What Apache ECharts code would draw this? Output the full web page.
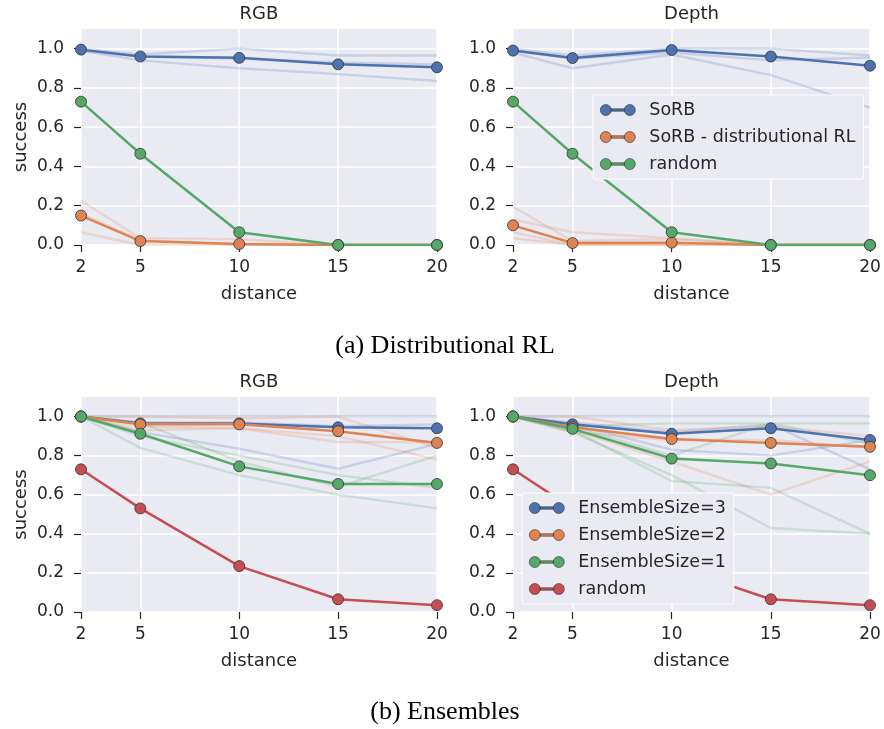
<!DOCTYPE html>
<html>
<head>
<meta charset="utf-8">
<script src="https://cdn.jsdelivr.net/npm/echarts@6/dist/echarts.min.js"></script>
<style>
  html, body { margin: 0; padding: 0; background: #fff; }
  #chart { width: 884px; height: 729px; }
</style>
</head>
<body>
<div id="chart"></div>
<script>
  // x positions and tick labels
  const distances = [2, 5, 10, 15, 20];
  const xTicks = [2, 5, 10, 15, 20];
  const yTicks = [0, 0.2, 0.4, 0.6, 0.8, 1.0];

  // (a) Distributional RL, RGB
  const rgbSorb = [0.995, 0.96, 0.953, 0.92, 0.905];
  const rgbSorbRuns = [
    [1.0, 0.97, 1.0, 0.965, 0.965],
    [0.99, 0.96, 0.95, 0.93, 0.92],
    [0.99, 0.94, 0.90, 0.87, 0.835]
  ];
  const rgbDistRL = [0.15, 0.02, 0.005, 0, 0];
  const rgbDistRLRuns = [
    [0.225, 0.035, 0.03, 0, 0],
    [0.16, 0.025, 0.0, 0, 0],
    [0.065, 0.0, 0.0, 0, 0]
  ];
  const rgbRandom = [0.73, 0.465, 0.065, 0, 0];

  // (a) Distributional RL, Depth
  const depthSorb = [0.99, 0.952, 0.993, 0.96, 0.913];
  const depthSorbRuns = [
    [1.0, 0.965, 1.0, 1.0, 0.965],
    [0.98, 0.90, 0.97, 0.865, 0.70],
    [0.99, 0.95, 0.98, 0.94, 0.955]
  ];
  const depthDistRL = [0.10, 0.01, 0.012, 0, 0];
  const depthDistRLRuns = [
    [0.195, 0.02, 0.03, 0, 0],
    [0.13, 0.065, 0.035, 0, 0],
    [0.065, 0.0, 0.0, 0, 0],
    [0.035, 0.0, 0.0, 0, 0]
  ];
  const depthRandom = [0.73, 0.465, 0.065, 0, 0];

  // (b) Ensembles, RGB
  const ensRgb3 = [1.0, 0.965, 0.965, 0.945, 0.94];
  const ensRgb2 = [1.0, 0.96, 0.96, 0.925, 0.865];
  const ensRgb1 = [1.0, 0.912, 0.745, 0.655, 0.655];
  const ensRgbRandom = [0.73, 0.53, 0.235, 0.065, 0.035];
  const ensRgb3Runs = [
    [1.0, 1.0, 1.0, 1.0, 1.0],
    [1.0, 0.97, 0.97, 0.95, 0.96],
    [1.0, 0.92, 0.835, 0.733, 0.86]
  ];
  const ensRgb2Runs = [
    [1.0, 1.0, 0.99, 1.0, 0.84],
    [1.0, 0.95, 0.94, 0.90, 0.78],
    [1.0, 0.93, 0.94, 0.87, 0.87]
  ];
  const ensRgb1Runs = [
    [1.0, 0.84, 0.70, 0.60, 0.53],
    [1.0, 0.90, 0.80, 0.70, 0.635],
    [1.0, 0.97, 0.77, 0.64, 0.80]
  ];

  // (b) Ensembles, Depth
  const ensDepth3 = [1.0, 0.96, 0.912, 0.94, 0.88];
  const ensDepth2 = [1.0, 0.945, 0.885, 0.865, 0.845];
  const ensDepth1 = [1.0, 0.937, 0.785, 0.76, 0.70];
  const ensDepthRandom = [0.73, 0.53, 0.235, 0.065, 0.035];
  const ensDepth3Runs = [
    [1.0, 1.0, 1.0, 1.0, 1.0],
    [1.0, 0.97, 0.92, 0.96, 0.73],
    [1.0, 0.96, 0.83, 0.80, 0.88]
  ];
  const ensDepth2Runs = [
    [1.0, 1.0, 0.93, 0.95, 0.90],
    [1.0, 0.93, 0.77, 0.60, 0.77],
    [1.0, 0.92, 0.88, 0.88, 0.84]
  ];
  const ensDepth1Runs = [
    [1.0, 0.93, 0.67, 0.635, 0.40],
    [1.0, 0.92, 0.70, 0.43, 0.40],
    [1.0, 0.95, 0.80, 0.965, 0.86],
    [1.0, 0.95, 0.965, 0.965, 0.965]
  ];

  const BLUE = '#4C72B0', ORANGE = '#DD8452', GREEN = '#55A868', RED = '#C44E52';
  const TEXT = '#262626';
  const FONT = 'DejaVu Sans';

  const panels = [
    { left: 81, top: 29, width: 356, height: 216, title: 'RGB', ylabel: true },
    { left: 513, top: 29, width: 357, height: 216, title: 'Depth', ylabel: false },
    { left: 81, top: 397, width: 356, height: 215, title: 'RGB', ylabel: true },
    { left: 513, top: 397, width: 357, height: 215, title: 'Depth', ylabel: false }
  ];

  function pts(vals) {
    return distances.map((d, i) => [d, vals[i]]);
  }

  const series = [];
  function addGroup(idx, name, mean, runs, color, z) {
    (runs || []).forEach((r, k) => {
      series.push({
        type: 'line', name: name + '_run' + k, xAxisIndex: idx, yAxisIndex: idx,
        data: pts(r), symbol: 'none', silent: true, z: 2,
        lineStyle: { color: color, width: 2.4, opacity: 0.22 },
        itemStyle: { color: color }
      });
    });
    series.push({
      type: 'line', name: name, xAxisIndex: idx, yAxisIndex: idx,
      data: pts(mean), symbol: 'circle', symbolSize: 11, z: z,
      lineStyle: { color: color, width: 2.5 },
      itemStyle: { color: color, borderColor: '#333', borderWidth: 0.8 }
    });
  }

  addGroup(0, 'SoRB', rgbSorb, rgbSorbRuns, BLUE, 3);
  addGroup(0, 'SoRB - distributional RL', rgbDistRL, rgbDistRLRuns, ORANGE, 4);
  addGroup(0, 'random', rgbRandom, null, GREEN, 5);
  addGroup(1, 'SoRB', depthSorb, depthSorbRuns, BLUE, 3);
  addGroup(1, 'SoRB - distributional RL', depthDistRL, depthDistRLRuns, ORANGE, 4);
  addGroup(1, 'random', depthRandom, null, GREEN, 5);
  addGroup(2, 'EnsembleSize=3', ensRgb3, ensRgb3Runs, BLUE, 3);
  addGroup(2, 'EnsembleSize=2', ensRgb2, ensRgb2Runs, ORANGE, 4);
  addGroup(2, 'EnsembleSize=1', ensRgb1, ensRgb1Runs, GREEN, 5);
  addGroup(2, 'random_b', ensRgbRandom, null, RED, 6);
  addGroup(3, 'EnsembleSize=3', ensDepth3, ensDepth3Runs, BLUE, 3);
  addGroup(3, 'EnsembleSize=2', ensDepth2, ensDepth2Runs, ORANGE, 4);
  addGroup(3, 'EnsembleSize=1', ensDepth1, ensDepth1Runs, GREEN, 5);
  addGroup(3, 'random_b', ensDepthRandom, null, RED, 6);

  // two markers joined by a line, like the matplotlib legend handle
  const legendIcon = 'path://M0,5.5a5.5,5.5 0 1,0 11,0a5.5,5.5 0 1,0 -11,0ZM11,4.3L24,4.3L24,6.7L11,6.7ZM24,5.5a5.5,5.5 0 1,0 11,0a5.5,5.5 0 1,0 -11,0Z';
  const legendBase = {
    orient: 'vertical', icon: legendIcon, itemWidth: 35, itemHeight: 11,
    itemGap: 9, selectedMode: false, z: 10,
    itemStyle: { borderColor: '#333', borderWidth: 0.6 },
    backgroundColor: '#EAEAF2', borderColor: '#ffffff', borderWidth: 1, borderRadius: 2,
    textStyle: { fontFamily: FONT, fontSize: 17.5, color: TEXT, lineHeight: 18, padding: [0, 0, 0, 9] },
    formatter: n => (n === 'random_b' ? 'random' : n)
  };

  const graphics = [];
  panels.forEach(p => {
    graphics.push({
      type: 'text', x: p.left + p.width / 2, y: p.top - 15,
      style: { text: p.title, fontFamily: FONT, fontSize: 18, fill: TEXT, align: 'center', verticalAlign: 'middle' }
    });
  });
  graphics.push({
    type: 'text', x: 445, y: 346,
    style: { text: '(a) Distributional RL', fontFamily: 'Liberation Serif', fontSize: 26, fill: '#000', align: 'center', verticalAlign: 'middle' }
  });
  graphics.push({
    type: 'text', x: 445, y: 712,
    style: { text: '(b) Ensembles', fontFamily: 'Liberation Serif', fontSize: 26, fill: '#000', align: 'center', verticalAlign: 'middle' }
  });

  const option = {
    animation: false,
    backgroundColor: '#fff',
    grid: panels.map(p => ({
      left: p.left, top: p.top, width: p.width, height: p.height,
      show: true, backgroundColor: '#EAEAF2', borderWidth: 0
    })),
    xAxis: panels.map((p, i) => ({
      gridIndex: i, type: 'value', min: 2, max: 20,
      axisLine: { show: false },
      axisTick: { show: true, length: 7, customValues: xTicks, lineStyle: { color: TEXT, width: 1.2 } },
      axisLabel: { customValues: xTicks, fontFamily: FONT, fontSize: 17, color: TEXT, margin: 14 },
      splitLine: { show: true, lineStyle: { color: '#ffffff', width: 1.5 } },
      name: 'distance', nameLocation: 'middle', nameGap: 40,
      nameTextStyle: { fontFamily: FONT, fontSize: 18, color: TEXT }
    })),
    yAxis: panels.map((p, i) => ({
      gridIndex: i, type: 'value', min: 0, max: 1.1,
      axisLine: { show: false },
      axisTick: { show: true, length: 7, customValues: yTicks, lineStyle: { color: TEXT, width: 1.2 } },
      axisLabel: { customValues: yTicks, formatter: v => v.toFixed(1), fontFamily: FONT, fontSize: 17, color: TEXT, margin: 17 },
      splitLine: { show: true, lineStyle: { color: '#ffffff', width: 1.5 } },
      name: p.ylabel ? 'success' : '', nameLocation: 'middle', nameGap: 51,
      nameTextStyle: { fontFamily: FONT, fontSize: 18, color: TEXT }
    })),
    legend: [
      Object.assign({}, legendBase, {
        left: 593, top: 95, padding: [6, 8, 6, 7],
        data: ['SoRB', 'SoRB - distributional RL', 'random']
      }),
      Object.assign({}, legendBase, {
        left: 522, top: 493, padding: [6, 8, 6, 7],
        data: ['EnsembleSize=3', 'EnsembleSize=2', 'EnsembleSize=1', 'random_b']
      })
    ],
    graphic: graphics,
    series: series
  };

  const myChart = echarts.init(document.getElementById('chart'));
  myChart.setOption(option);
</script>
</body>
</html>
